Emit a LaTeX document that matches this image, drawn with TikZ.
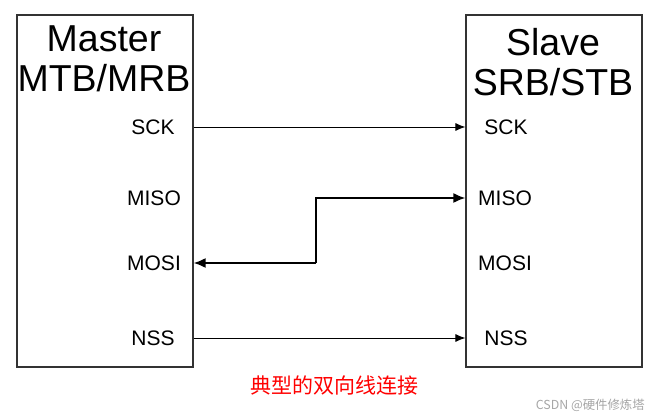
\documentclass[tikz,border=0pt]{standalone}
\usepackage{fontspec}
\setmainfont{Liberation Sans}
\newfontfamily\cjk{Noto Sans CJK SC}
\usetikzlibrary{arrows.meta}
\begin{document}
\begin{tikzpicture}[x=1pt,y=-1pt,
  box/.style={draw=black!80,line width=1.2pt,minimum width=176pt,minimum height=352pt,inner sep=0pt},
  title/.style={font=\fontsize{37.5}{40}\selectfont,align=center,inner sep=0pt},
  port/.style={font=\fontsize{21}{22}\selectfont,inner sep=0pt},
  sig/.style={line width=0.9pt,-{Latex[length=10pt,width=8pt]}},
  sigb/.style={line width=1.8pt,-{Latex[length=12pt,width=10pt]}}]
\useasboundingbox (0,0) rectangle (653,419);
\node[box] (master) at (105,191) {};
\node[box] (slave) at (554,191) {};
\node[title] (mt) at (104,59) {Master\\MTB/MRB};
\node[title] (st) at (553,62) {Slave\\SRB/STB};
\node[port] (msck) at (153,127) {SCK};
\node[port] (mmiso) at (154,198) {MISO};
\node[port] (mmosi) at (154,263) {MOSI};
\node[port] (mnss) at (153,338) {NSS};
\node[port] (ssck) at (506,127) {SCK};
\node[port] (smiso) at (505,198) {MISO};
\node[port] (smosi) at (505,263) {MOSI};
\node[port] (snss) at (506,338) {NSS};
\coordinate (bend) at (316,230);
\draw[sig] (master.east |- msck) -- (slave.west |- ssck);
\draw[sig] (master.east |- mnss) -- (slave.west |- snss);
\draw[sigb] (bend |- mmosi) |- (slave.west |- smiso);
\draw[sigb] (bend |- mmosi) -- (master.east |- mmosi);
\node[font=\cjk\fontsize{21}{22}\selectfont,text=red,inner sep=0pt] (cap) at (334,385) {典型的双向线连接};
\node[font=\cjk\fontsize{12.4}{13}\selectfont,text=black!35,inner sep=0pt,anchor=east] (wm) at (645,405) {CSDN @硬件修炼塔};
\end{tikzpicture}
\end{document}
